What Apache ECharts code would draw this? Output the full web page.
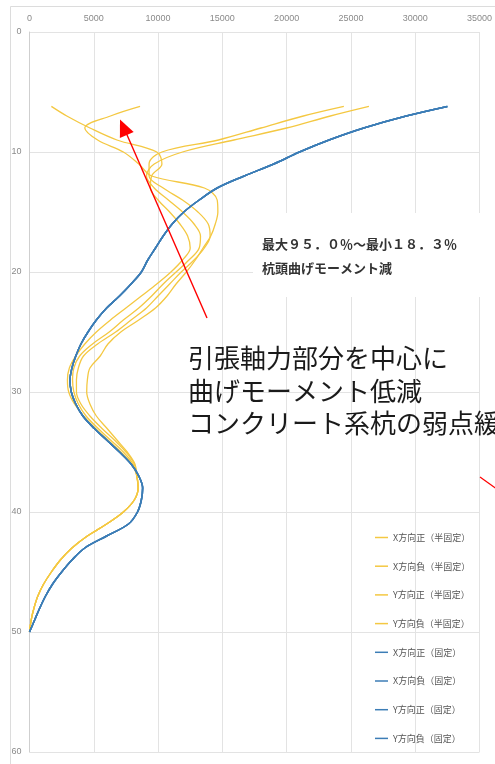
<!DOCTYPE html>
<html>
<head>
<meta charset="utf-8">
<script src="https://cdn.jsdelivr.net/npm/echarts@6/dist/echarts.min.js"></script>
<style>
  html, body { margin: 0; padding: 0; background: #fff; }
  #chart { width: 495px; height: 764px; }
</style>
</head>
<body>
<div id="chart"></div>
<script>
// Depth below pile head reference (m)
const depths = [6.2, 7, 8, 9, 10, 11, 12, 13, 14, 15, 16, 17, 18, 19, 20,
  21, 22, 23, 24, 25, 26, 27, 28, 29, 30, 31, 32, 33, 34, 35, 36,
  37, 38, 39, 40, 41, 42, 43, 44, 45, 46, 47, 48, 49, 50];

// Bending moment (kN·m), semi-fixed pile head
const xPosSemi = [26400, 23400, 20000, 15900, 11900, 9700, 9100, 9700, 10800, 11900, 12800, 13300, 13200, 12400, 11400,
  10400, 9500, 8500, 7300, 6200, 4900, 3900, 3450, 3350, 3450, 3800, 4400, 5300, 6300, 7300, 8050,
  8350, 8450, 8150, 7300, 6000, 4500, 3300, 2400, 1700, 1100, 650, 350, 130, 0];
const xNegSemi = [24450, 21300, 18000, 14700, 10300, 9300, 9300, 10400, 11900, 13100, 13900, 14050, 13600, 12800, 11800,
  10900, 10000, 9100, 7900, 6700, 5300, 4200, 3800, 3650, 3650, 4000, 4700, 5600, 6600, 7500, 8150,
  8350, 8450, 8150, 7300, 6000, 4500, 3300, 2400, 1700, 1100, 650, 350, 130, 0];
const yPosSemi = [8600, 6300, 4300, 5300, 7300, 8500, 9500, 13600, 14600, 14650, 14450, 14100, 13500, 12900, 12200,
  11400, 10700, 9800, 8500, 7100, 6100, 5500, 4700, 4500, 4450, 4700, 5200, 6000, 6800, 7600, 8200,
  8350, 8450, 8150, 7300, 6000, 4500, 3300, 2400, 1700, 1100, 650, 350, 130, 0];
const yNegSemi = [1700, 2900, 4700, 6800, 9900, 10300, 9500, 9400, 10000, 10900, 11700, 12300, 12500, 11900, 11000,
  9900, 8700, 7500, 6300, 5200, 4300, 3600, 3100, 2950, 3050, 3500, 4200, 5100, 6100, 7100, 7950,
  8350, 8450, 8150, 7300, 6000, 4500, 3300, 2400, 1700, 1100, 650, 350, 130, 0];

// Bending moment (kN·m), fixed pile head (all four directions coincide)
const fixedMoment = [32500, 29300, 26000, 23300, 21000, 19000, 16700, 14600, 13200, 12000, 11100, 10400, 9800, 9200, 8700,
  7900, 7000, 6000, 5200, 4550, 4000, 3600, 3300, 3150, 3250, 3600, 4150, 5000, 6000, 7000, 7900,
  8500, 8800, 8700, 8400, 7700, 6000, 4300, 3300, 2500, 1800, 1250, 800, 400, 0];

const seriesNames = [
  'X方向正（半固定）', 'X方向負（半固定）', 'Y方向正（半固定）', 'Y方向負（半固定）',
  'X方向正（固定）', 'X方向負（固定）', 'Y方向正（固定）', 'Y方向負（固定）'
];
const seriesValues = [xPosSemi, xNegSemi, yPosSemi, yNegSemi, fixedMoment, fixedMoment, fixedMoment, fixedMoment];

const xTicks = { min: 0, max: 35000, step: 5000 };
const yTicks = { min: 0, max: 60, step: 10 };

const YELLOW = '#F4C842';
const BLUE = '#3C7DB6';
const JP = '"Noto Sans CJK JP", "Noto Sans", sans-serif';

const chart = echarts.init(document.getElementById('chart'), null, { renderer: 'canvas' });

const series = seriesNames.map((name, i) => ({
  name,
  type: 'line',
  data: seriesValues[i].map((v, k) => [v, depths[k]]),
  showSymbol: false,
  symbol: 'none',
  smooth: 0.35,
  color: i < 4 ? YELLOW : BLUE,
  lineStyle: { width: i < 4 ? 1.3 : 1.5, color: i < 4 ? YELLOW : BLUE },
  z: i < 4 ? 3 : 4,
  animation: false
}));

chart.setOption({
  animation: false,
  backgroundColor: '#fff',
  grid: { left: 29.5, right: 13, top: 32, bottom: 12, containLabel: false },
  xAxis: {
    type: 'value', position: 'top',
    min: xTicks.min, max: xTicks.max, interval: xTicks.step,
    axisLine: { show: false },
    axisTick: { show: false },
    axisLabel: { fontSize: 9, color: '#8a8a8a', margin: 9, fontFamily: 'Liberation Sans',
      formatter: v => String(v) },
    splitLine: { show: true, lineStyle: { color: '#e3e3e3', width: 1 } }
  },
  yAxis: {
    type: 'value', inverse: true,
    min: yTicks.min, max: yTicks.max, interval: yTicks.step,
    axisLine: { show: true, lineStyle: { color: '#cfcfcf', width: 1 } },
    axisTick: { show: false },
    axisLabel: { fontSize: 9, color: '#8a8a8a', margin: 8, fontFamily: 'Liberation Sans',
      formatter: v => String(v) },
    splitLine: { show: true, lineStyle: { color: '#e3e3e3', width: 1 } }
  },
  legend: {
    orient: 'vertical', left: 370, top: 528,
    icon: 'rect', itemWidth: 13, itemHeight: 1.5, itemGap: 19.7,
    textStyle: { fontSize: 9, color: '#555555', fontFamily: JP },
    data: seriesNames
  },
  graphic: [
    // chart area frame
    { type: 'rect', z: 0, silent: true,
      shape: { x: 10.5, y: 6.5, width: 600, height: 800 },
      style: { fill: null, stroke: '#dcdcdc', lineWidth: 1 } },
    // opaque text box behind the reduction note
    { type: 'rect', z: 10, silent: true,
      shape: { x: 253, y: 213, width: 260, height: 84 },
      style: { fill: '#ffffff' } },
    { type: 'text', z: 11, silent: true,
      style: { x: 262, y: 244, text: '最大９５．０％～最小１８．３％', fill: '#333333',
        font: 'bold 13px ' + JP, align: 'left', verticalAlign: 'middle' } },
    { type: 'text', z: 11, silent: true,
      style: { x: 262, y: 268, text: '杭頭曲げモーメント減', fill: '#333333',
        font: 'bold 13px ' + JP, align: 'left', verticalAlign: 'middle' } },
    // main note
    { type: 'text', z: 11, silent: true,
      style: { x: 188, y: 358, text: '引張軸力部分を中心に', fill: '#1a1a1a',
        font: '26px ' + JP, align: 'left', verticalAlign: 'middle' } },
    { type: 'text', z: 11, silent: true,
      style: { x: 188, y: 391, text: '曲げモーメント低減', fill: '#1a1a1a',
        font: '26px ' + JP, align: 'left', verticalAlign: 'middle' } },
    { type: 'text', z: 11, silent: true,
      style: { x: 188, y: 423, text: 'コンクリート系杭の弱点緩和', fill: '#1a1a1a',
        font: '26px ' + JP, align: 'left', verticalAlign: 'middle' } },
    // red arrow toward the pile-head moments
    { type: 'line', z: 12, silent: true,
      shape: { x1: 207, y1: 318, x2: 124, y2: 128 },
      style: { stroke: '#ff0000', lineWidth: 1.4 } },
    { type: 'polygon', z: 12, silent: true,
      shape: { points: [[120, 119.5], [133.7, 132.1], [119.9, 138.1]] },
      style: { fill: '#ff0000' } },
    // second leader line
    { type: 'line', z: 12, silent: true,
      shape: { x1: 480, y1: 477, x2: 512, y2: 500 },
      style: { stroke: '#ff0000', lineWidth: 1.2 } }
  ],
  series
});
</script>
</body>
</html>
